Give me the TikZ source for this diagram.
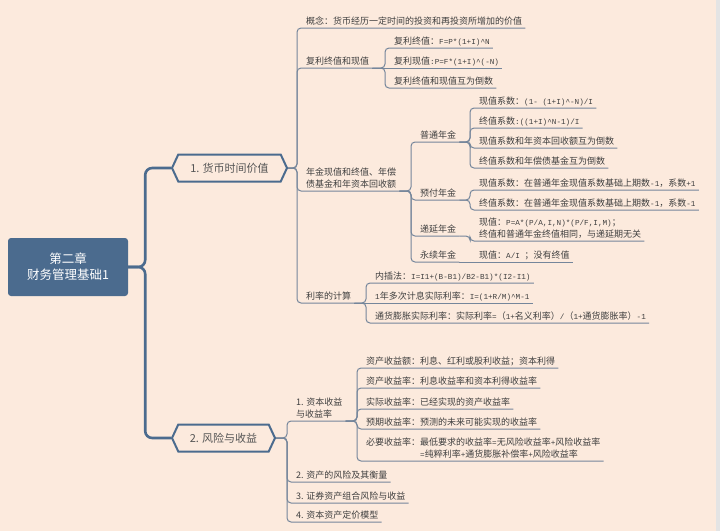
\documentclass[tikz,border=0pt]{standalone}
\usepackage{fontspec}
\setmainfont{Noto Sans CJK SC}
\newfontfamily\ascfont{Liberation Mono}[Scale=0.85]
\newcommand\fml[1]{{\ascfont #1}}
\usepackage{tikz}
\usetikzlibrary{shapes.symbols}
\definecolor{bgpeach}{HTML}{FCEADD}
\definecolor{rootblue}{HTML}{4B6B8E}
\definecolor{linegrey}{HTML}{75869B}
\definecolor{txtgrey}{HTML}{3F3F3F}
\definecolor{hextext}{HTML}{555555}
\definecolor{edgegrey}{HTML}{E4E4E4}

\begin{document}
\begin{tikzpicture}[x=1pt,y=-1pt,
    topic/.style={anchor=south west,inner xsep=3pt,inner ysep=2pt,text depth=1.5pt,align=left,
      text=txtgrey,font=\fontsize{9}{11.5}\selectfont},
    link/.style={draw=linegrey,line width=1pt,rounded corners=4pt},
    trunk/.style={draw=rootblue,line width=2.6pt,rounded corners=7pt},
    hexa/.style={draw=rootblue,line width=2pt,fill=bgpeach,signal,signal to=west and east,
      signal pointer angle=130,minimum height=27pt,text=hextext,font=\fontsize{11}{13}\selectfont}]
\fill[bgpeach] (0,0) rectangle (720,531);
\fill[edgegrey] (716,0) rectangle (720,531);

\node[fill=rootblue,rounded corners=3pt,minimum width=120pt,minimum height=58pt,align=center,
  text=white,font=\fontsize{12.5}{16}\selectfont] (root) at (68,267) {第二章\\财务管理基础1};
\node[hexa,minimum width=115pt] (money) at (229.5,168) {1. 货币时间价值};
\node[hexa,minimum width=103pt] (risk) at (223.5,438) {2. 风险与收益};
\draw[trunk] (root.east) -- ++(17,0) |- (money.west);
\draw[trunk] (root.east) -- ++(17,0) |- (risk.west);

\node[topic] (concept) at (303,28) {概念：货币经历一定时间的投资和再投资所增加的价值};
\node[topic] (fuli) at (303,68) {复利终值和现值};
\node[topic] (nianjin) at (303,191) {年金现值和终值、年偿\\债基金和年资本回收额};
\node[topic] (lilv) at (303,303) {利率的计算};
\foreach \c in {concept,fuli,nianjin,lilv}
  \draw[link] (money.east) -| ([xshift=-6pt]\c.south west) -- (\c.south east);

\node[topic] (fl1) at (391,48) {复利终值：\fml{F=P*(1+I)\textasciicircum N}};
\node[topic] (fl2) at (391,68) {复利现值\fml{:P=F*(1+I)\textasciicircum(-N)}};
\node[topic] (fl3) at (391,88) {复利终值和现值互为倒数};
\foreach \c in {fl1,fl3}
  \draw[link] (fuli.south east) -| ([xshift=-6pt]\c.south west) -- (\c.south east);
\draw[link] (fuli.south east) -- (fl2.south east);

\node[topic] (putong) at (417,142) {普通年金};
\node[topic] (yufu) at (417,200) {预付年金};
\node[topic] (diyan) at (417,236) {递延年金};
\node[topic] (yongxu) at (417,262) {永续年金};
\foreach \c in {putong,yufu,diyan,yongxu}
  \draw[link] (nianjin.south east) -| ([xshift=-6pt]\c.south west) -- (\c.south east);

\node[topic] (pt1) at (476,108) {现值系数：\fml{(1- (1+I)\textasciicircum-N)/I}};
\node[topic] (pt2) at (476,128) {终值系数\fml{:((1+I)\textasciicircum N-1)/I}};
\node[topic] (pt3) at (476,148) {现值系数和年资本回收额互为倒数};
\node[topic] (pt4) at (476,168) {终值系数和年偿债基金互为倒数};
\foreach \c in {pt1,pt2,pt3,pt4}
  \draw[link] (putong.south east) -| ([xshift=-6pt]\c.south west) -- (\c.south east);

\node[topic] (yf1) at (476,190) {现值系数：在普通年金现值系数基础上期数\fml{-1}，系数\fml{+1}};
\node[topic] (yf2) at (476,210) {终值系数：在普通年金现值系数基础上期数\fml{-1}，系数\fml{-1}};
\foreach \c in {yf1,yf2}
  \draw[link] (yufu.south east) -| ([xshift=-6pt]\c.south west) -- (\c.south east);

\node[topic] (dy1) at (476,241) {现值：\fml{P=A*(P/A,I,N)*(P/F,I,M)}；\\终值和普通年金终值相同，与递延期无关};
\draw[link] (diyan.south east) -| ([xshift=-6pt]dy1.south west) -- (dy1.south east);
\node[topic] (yx1) at (476,262) {现值：\fml{A/I }；没有终值};
\draw[link] (yongxu.south east) -- (yx1.south east);

\node[topic] (ll1) at (372,283) {内插法：\fml{I=I1+(B-B1)/B2-B1)*(I2-I1)}};
\node[topic] (ll2) at (372,303) {\fml{1}年多次计息实际利率：\fml{I=(1+R/M)\textasciicircum M-1}};
\node[topic] (ll3) at (372,323) {通货膨胀实际利率：实际利率\fml{=}（\fml{1+}名义利率）\fml{/}（\fml{1+}通货膨胀率）\fml{-1}};
\foreach \c in {ll1,ll3}
  \draw[link] (lilv.south east) -| ([xshift=-6pt]\c.south west) -- (\c.south east);
\draw[link] (lilv.south east) -- (ll2.south east);

\node[topic] (shouyi) at (293,421) {1. 资本收益\\与收益率};
\node[topic] (fengxian) at (293,482) {2. 资产的风险及其衡量};
\node[topic] (zuhe) at (293,503) {3. 证券资产组合风险与收益};
\node[topic] (dingjia) at (293,522) {4. 资本资产定价模型};
\foreach \c in {shouyi,fengxian,zuhe,dingjia}
  \draw[link] (risk.east) -| ([xshift=-6pt]\c.south west) -- (\c.south east);

\node[topic] (sy1) at (363,368) {资产收益额：利息、红利或股利收益；资本利得};
\node[topic] (sy2) at (363,388) {资产收益率：利息收益率和资本利得收益率};
\node[topic] (sy3) at (363,409) {实际收益率：已经实现的资产收益率};
\node[topic] (sy4) at (363,429) {预期收益率：预测的未来可能实现的收益率};
\node[topic] (sy5) at (363,461) {必要收益率：最低要求的收益率\fml{=}无风险收益率\fml{+}风险收益率\\\hphantom{必要收益率：}\fml{=}纯粹利率\fml{+}通货膨胀补偿率\fml{+}风险收益率};
\foreach \c in {sy1,sy2,sy3,sy4,sy5}
  \draw[link] (shouyi.south east) -| ([xshift=-6pt]\c.south west) -- (\c.south east);
\end{tikzpicture}
\end{document}
